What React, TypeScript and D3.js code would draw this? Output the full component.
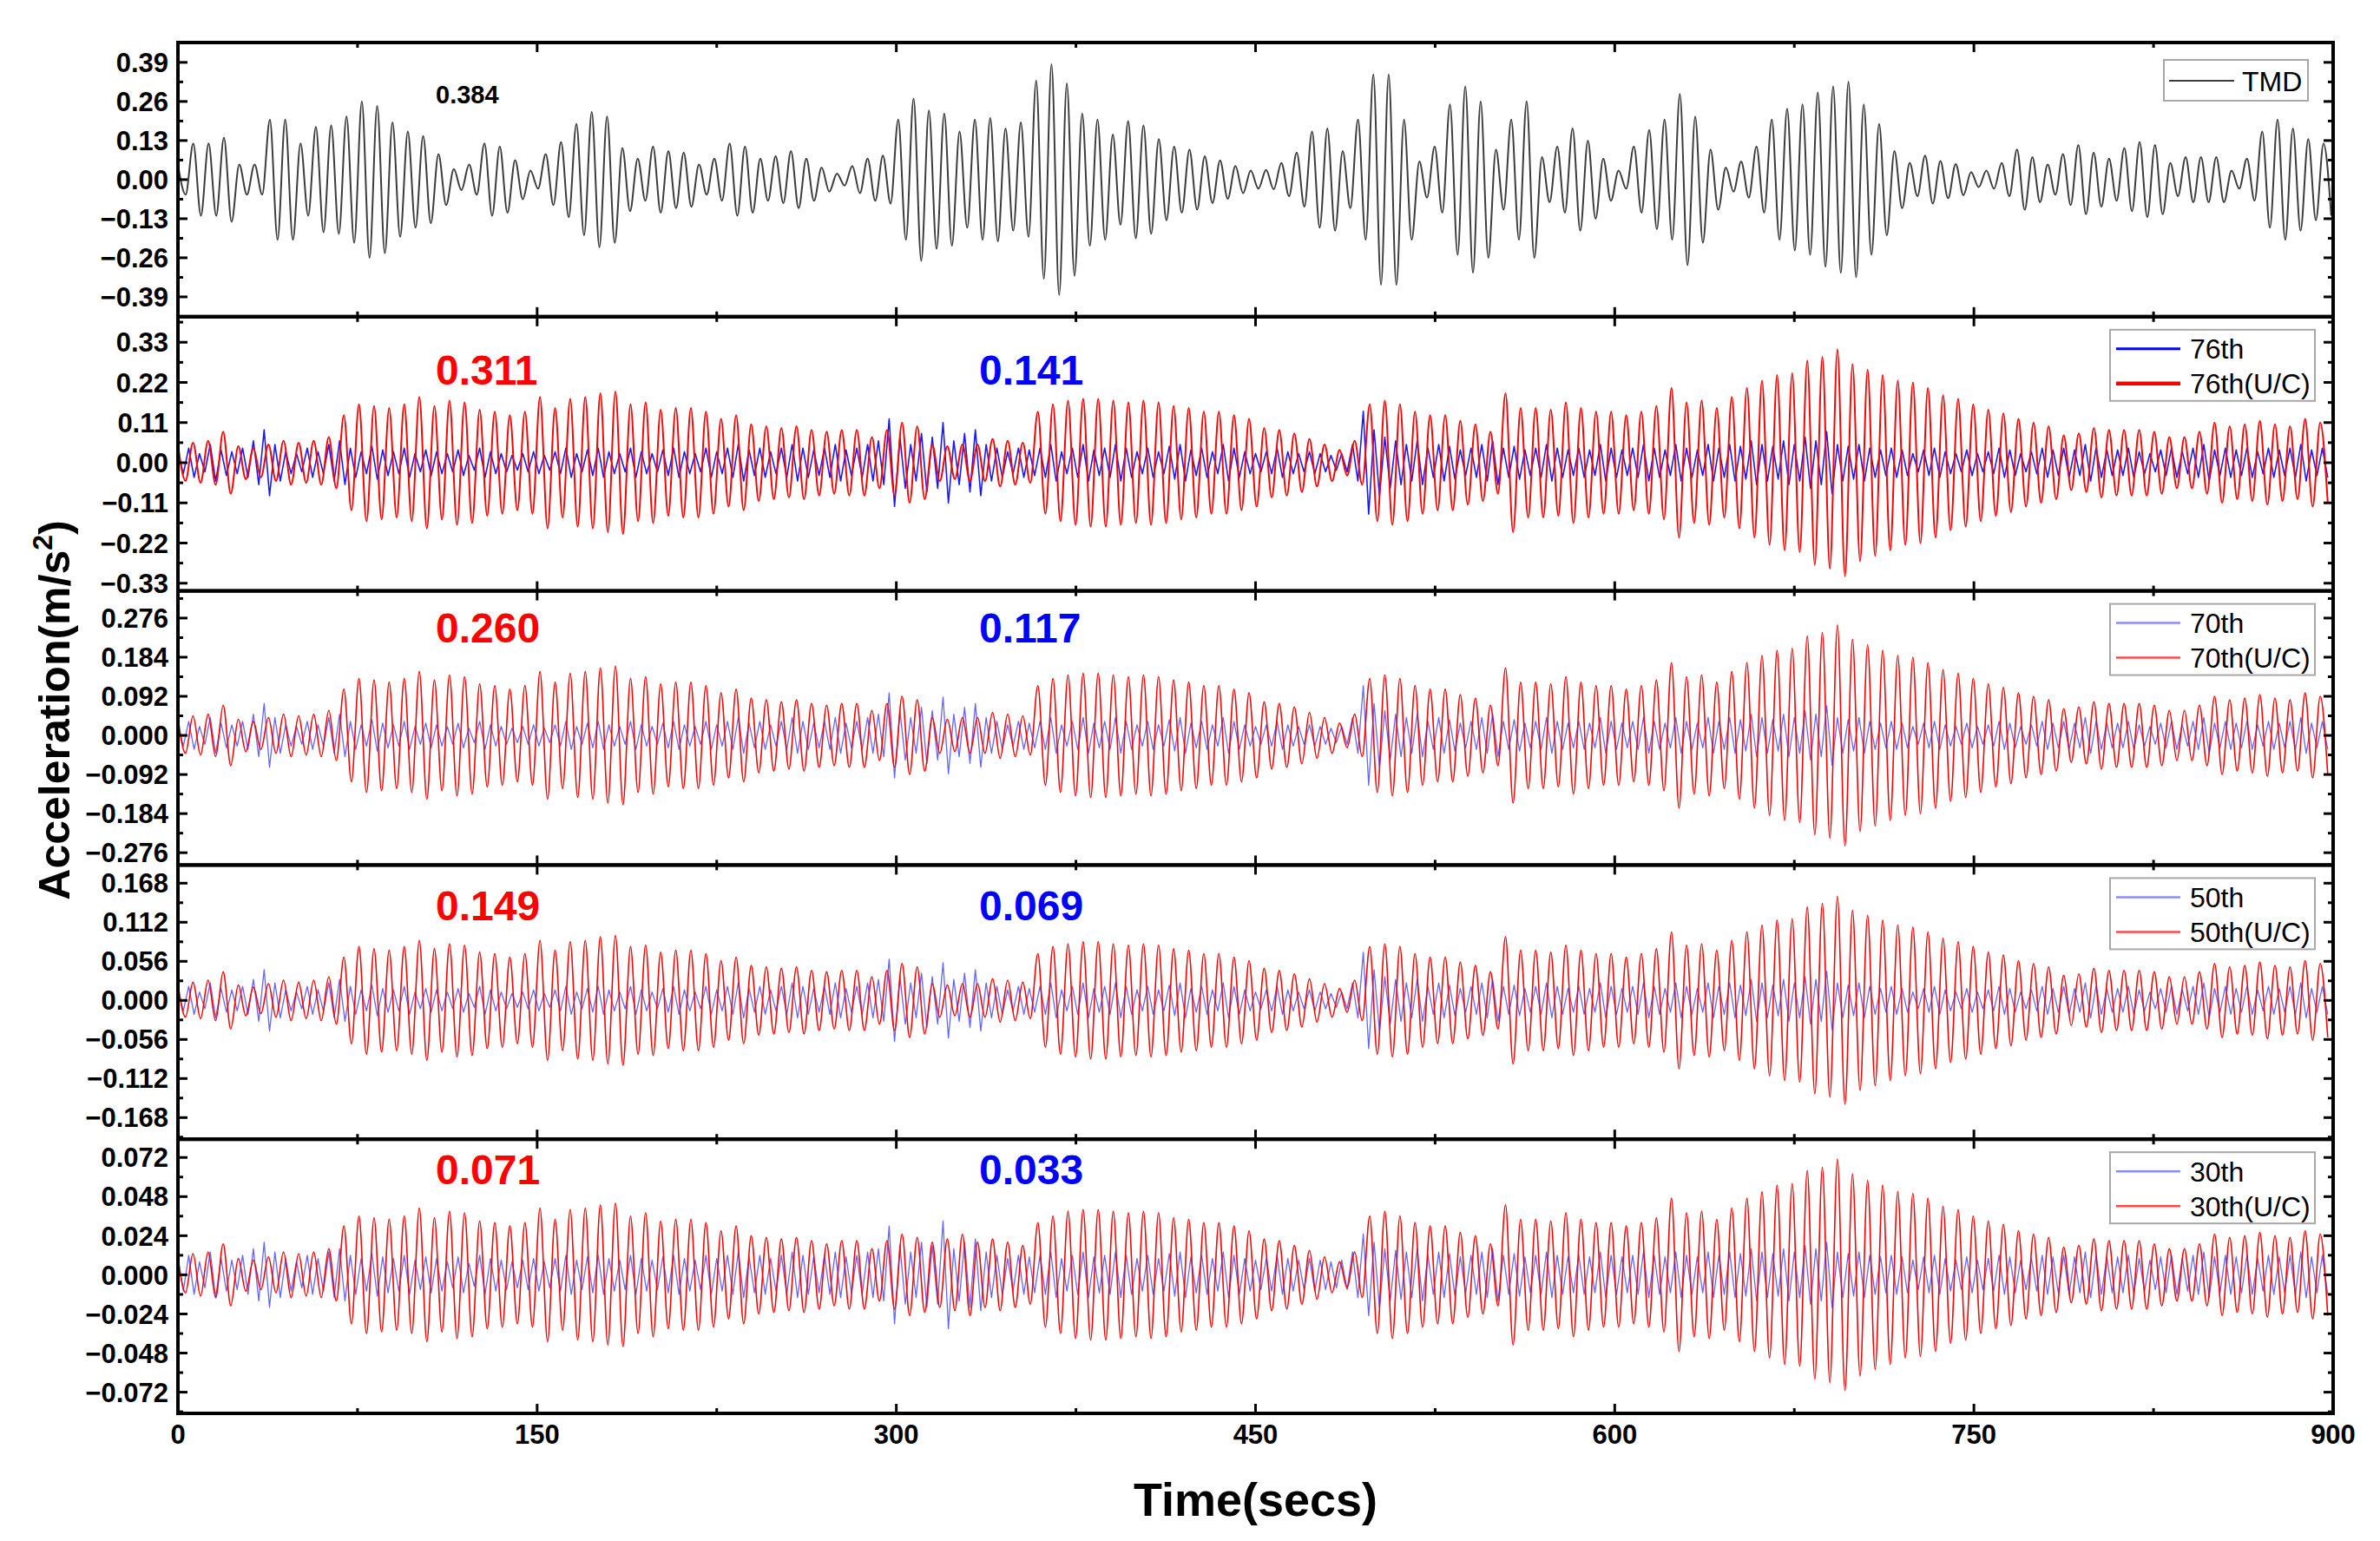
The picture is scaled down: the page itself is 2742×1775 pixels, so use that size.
import React, { useEffect, useRef } from "react";
import * as d3 from "d3";

// peak amplitude of each oscillation cycle (m/s^2)
const tmdPeaks = [
	.05, .12, .12, .14, .05, .05, .2, .2, .12, .175,
	.18, .21, .26, .245, .19, .16, .145, .085, .035, .05,
	.12, .11, .065, .03, .085, .125, .185, .225, .21, .105,
	.07, .11, .095, .09, .05, .07, .12, .11, .07, .078,
	.095, .07, .04, .02, .045, .07, .08, .2, .27, .23,
	.22, .16, .2, .205, .17, .19, .33, .384, .32, .22,
	.2, .15, .195, .18, .135, .11, .1, .078, .064, .045,
	.03, .032, .055, .09, .16, .17, .095, .2, .35, .35,
	.2, .06, .11, .25, .31, .26, .1, .2, .26, .075,
	.11, .17, .13, .07, .03, .11, .165, .2, .285, .21,
	.1, .04, .06, .11, .2, .236, .25, .29, .31, .325,
	.25, .185, .095, .055, .08, .062, .052, .025, .03, .055,
	.1, .075, .05, .085, .115, .09, .07, .105, .125, .115,
	.055, .075, .075, .075, .03, .07, .16, .2, .17, .135,
	.12,
];

const uc76 = [
	.05, .055, .06, .085, .045, .04, .05, .06, .055, .06,
	.07, .13, .16, .155, .15, .16, .18, .155, .17, .165,
	.145, .14, .13, .14, .18, .15, .175, .18, .19, .195,
	.16, .165, .145, .15, .15, .14, .12, .13, .105, .1,
	.095, .1, .09, .085, .09, .09, .07, .09, .11, .1,
	.05, .045, .05, .05, .065, .06, .055, .14, .16, .17,
	.175, .175, .17, .165, .17, .165, .155, .15, .14, .14,
	.13, .12, .095, .09, .08, .065, .05, .035, .06, .16,
	.17, .16, .14, .13, .13, .115, .105, .085, .19, .15,
	.15, .145, .165, .15, .14, .14, .13, .14, .155, .205,
	.165, .17, .15, .18, .205, .225, .24, .245, .28, .29,
	.311, .27, .255, .24, .225, .22, .205, .185, .175, .16,
	.145, .135, .12, .11, .1, .075, .08, .095, .09, .09,
	.09, .085, .07, .07, .085, .11, .1, .105, .115, .105,
	.1, .12, .11,
];

const uc70 = [
	.042, .046, .05, .071, .038, .033, .042, .05, .046, .05,
	.059, .109, .134, .13, .125, .134, .15, .13, .142, .138,
	.121, .117, .109, .117, .15, .125, .146, .15, .159, .163,
	.134, .138, .121, .125, .125, .117, .1, .109, .088, .084,
	.079, .084, .075, .071, .075, .075, .059, .075, .092, .084,
	.042, .038, .042, .042, .054, .05, .046, .117, .134, .142,
	.146, .146, .142, .138, .142, .138, .13, .125, .117, .117,
	.109, .1, .079, .075, .067, .054, .042, .029, .05, .134,
	.142, .134, .117, .109, .109, .096, .088, .071, .159, .125,
	.125, .121, .138, .125, .117, .117, .109, .117, .13, .171,
	.138, .142, .125, .15, .171, .188, .2, .205, .234, .242,
	.26, .226, .213, .2, .188, .184, .171, .155, .146, .134,
	.121, .113, .1, .092, .084, .063, .067, .079, .075, .075,
	.075, .071, .059, .059, .071, .092, .084, .088, .096, .088,
	.084, .1, .092,
];

const uc50 = [
	.024, .026, .029, .041, .022, .019, .024, .029, .026, .029,
	.034, .062, .077, .074, .072, .077, .086, .074, .081, .079,
	.069, .067, .062, .067, .086, .072, .084, .086, .091, .093,
	.077, .079, .069, .072, .072, .067, .057, .062, .05, .048,
	.046, .048, .043, .041, .043, .043, .034, .043, .053, .048,
	.024, .022, .024, .024, .031, .029, .026, .067, .077, .081,
	.084, .084, .081, .079, .081, .079, .074, .072, .067, .067,
	.062, .057, .046, .043, .038, .031, .024, .017, .029, .077,
	.081, .077, .067, .062, .062, .055, .05, .041, .091, .072,
	.072, .069, .079, .072, .067, .067, .062, .067, .074, .098,
	.079, .081, .072, .086, .098, .108, .115, .117, .134, .139,
	.149, .129, .122, .115, .108, .105, .098, .089, .084, .077,
	.069, .065, .057, .053, .048, .036, .038, .046, .043, .043,
	.043, .041, .034, .034, .041, .053, .048, .05, .055, .05,
	.048, .057, .053,
];

const uc30 = [
	.011, .013, .014, .019, .01, .009, .011, .014, .013, .014,
	.016, .03, .036, .035, .034, .036, .041, .035, .039, .038,
	.033, .032, .03, .032, .041, .034, .04, .041, .043, .044,
	.036, .038, .033, .034, .034, .032, .027, .03, .024, .023,
	.022, .023, .021, .019, .021, .021, .016, .021, .025, .023,
	.02, .022, .025, .02, .022, .02, .018, .032, .036, .039,
	.04, .04, .039, .038, .039, .038, .035, .034, .032, .032,
	.03, .027, .022, .021, .018, .015, .011, .008, .014, .036,
	.039, .036, .032, .03, .03, .026, .024, .019, .043, .034,
	.034, .033, .038, .034, .032, .032, .03, .032, .035, .047,
	.038, .039, .034, .041, .047, .051, .055, .056, .064, .066,
	.071, .062, .058, .055, .051, .05, .047, .042, .04, .036,
	.033, .031, .027, .025, .023, .017, .018, .022, .021, .021,
	.021, .019, .016, .016, .019, .025, .023, .024, .026, .024,
	.023, .027, .025,
];

const ctrl76 = [
	.03, .04, .025, .05, .035, .03, .04, .06, .09, .05,
	.03, .025, .04, .03, .05, .06, .04, .03, .045, .035,
	.03, .04, .025, .035, .03, .025, .035, .02, .04, .03,
	.025, .02, .025, .03, .02, .03, .04, .025, .035, .04,
	.03, .025, .04, .03, .025, .035, .04, .03, .025, .04,
	.03, .04, .05, .035, .04, .03, .04, .05, .04, .035,
	.04, .05, .035, .04, .05, .06, .12, .07, .05, .08,
	.07, .11, .06, .08, .09, .05, .04, .03, .04, .035,
	.04, .05, .03, .04, .05, .035, .04, .05, .04, .03,
	.04, .03, .045, .05, .035, .04, .03, .05, .04, .03,
	.025, .03, .04, .03, .025, .03, .025, .02, .025, .05,
	.141, .09, .07, .06, .05, .06, .04, .05, .045, .035,
	.04, .05, .06, .04, .045, .035, .04, .05, .04, .035,
	.04, .035, .05, .04, .035, .04, .05, .04, .035, .05,
	.04, .035, .05, .04, .05, .045, .06, .05, .045, .06,
	.05, .07, .06, .085, .05, .045, .05, .04, .035, .04,
	.035, .025, .035, .04, .03, .025, .035, .025, .03, .04,
	.035, .025, .03, .04, .035, .04, .035, .05, .04, .035,
	.035, .04, .03, .025, .035, .04, .03, .04, .05, .035,
	.04, .035, .04, .03, .04, .035, .04, .05, .035, .04,
];

const ctrl70 = [
	.025, .033, .021, .042, .029, .025, .033, .05, .075, .042,
	.025, .021, .033, .025, .042, .05, .033, .025, .037, .029,
	.025, .033, .021, .029, .025, .021, .029, .017, .033, .025,
	.021, .017, .021, .025, .017, .025, .033, .021, .029, .033,
	.025, .021, .033, .025, .021, .029, .033, .025, .021, .033,
	.025, .033, .042, .029, .033, .025, .033, .042, .033, .029,
	.033, .042, .029, .033, .042, .05, .1, .058, .042, .066,
	.058, .09, .05, .066, .075, .042, .033, .025, .033, .029,
	.033, .042, .025, .033, .042, .029, .033, .042, .033, .025,
	.033, .025, .037, .042, .029, .033, .025, .042, .033, .025,
	.021, .025, .033, .025, .021, .025, .021, .017, .021, .042,
	.117, .075, .058, .05, .042, .05, .033, .042, .037, .029,
	.033, .042, .05, .033, .037, .029, .033, .042, .033, .029,
	.033, .029, .042, .033, .029, .033, .042, .033, .029, .042,
	.033, .029, .042, .033, .042, .037, .05, .042, .037, .05,
	.042, .058, .05, .07, .042, .037, .042, .033, .029, .033,
	.029, .021, .029, .033, .025, .021, .029, .021, .025, .033,
	.029, .021, .025, .033, .029, .033, .029, .042, .033, .029,
	.029, .033, .025, .021, .029, .033, .025, .033, .042, .029,
	.033, .029, .033, .025, .033, .029, .033, .042, .029, .033,
];

const ctrl50 = [
	.015, .02, .012, .025, .017, .015, .02, .03, .044, .025,
	.015, .012, .02, .015, .025, .03, .02, .015, .022, .017,
	.015, .02, .012, .017, .015, .012, .017, .01, .02, .015,
	.012, .01, .012, .015, .01, .015, .02, .012, .017, .02,
	.015, .012, .02, .015, .012, .017, .02, .015, .012, .02,
	.015, .02, .025, .017, .02, .015, .02, .025, .02, .017,
	.02, .025, .017, .02, .025, .03, .059, .034, .025, .039,
	.034, .054, .03, .039, .044, .025, .02, .015, .02, .017,
	.02, .025, .015, .02, .025, .017, .02, .025, .02, .015,
	.02, .015, .022, .025, .017, .02, .015, .025, .02, .015,
	.012, .015, .02, .015, .012, .015, .012, .01, .012, .025,
	.069, .044, .034, .03, .025, .03, .02, .025, .022, .017,
	.02, .025, .03, .02, .022, .017, .02, .025, .02, .017,
	.02, .017, .025, .02, .017, .02, .025, .02, .017, .025,
	.02, .017, .025, .02, .025, .022, .03, .025, .022, .03,
	.025, .034, .03, .042, .025, .022, .025, .02, .017, .02,
	.017, .012, .017, .02, .015, .012, .017, .012, .015, .02,
	.017, .012, .015, .02, .017, .02, .017, .025, .02, .017,
	.017, .02, .015, .012, .017, .02, .015, .02, .025, .017,
	.02, .017, .02, .015, .02, .017, .02, .025, .017, .02,
];

const ctrl30 = [
	.01, .012, .008, .014, .01, .009, .012, .016, .02, .014,
	.01, .008, .012, .01, .014, .016, .012, .01, .013, .011,
	.01, .012, .009, .011, .01, .008, .011, .007, .012, .01,
	.009, .008, .009, .01, .008, .01, .012, .009, .011, .012,
	.01, .009, .012, .01, .009, .011, .012, .01, .009, .012,
	.01, .012, .014, .011, .012, .01, .012, .014, .012, .011,
	.012, .014, .011, .012, .014, .016, .03, .018, .014, .02,
	.018, .033, .016, .02, .022, .014, .012, .01, .012, .011,
	.012, .014, .01, .012, .014, .011, .012, .014, .012, .01,
	.012, .01, .013, .014, .011, .012, .01, .014, .012, .01,
	.009, .01, .012, .01, .009, .01, .009, .008, .009, .014,
	.025, .02, .016, .015, .014, .016, .012, .014, .013, .011,
	.012, .014, .016, .012, .013, .011, .012, .014, .012, .011,
	.012, .011, .014, .012, .011, .012, .014, .012, .011, .014,
	.012, .011, .014, .012, .014, .013, .016, .014, .013, .016,
	.014, .018, .016, .02, .014, .013, .014, .012, .011, .012,
	.011, .009, .011, .012, .01, .009, .011, .009, .01, .012,
	.011, .009, .01, .012, .011, .012, .011, .014, .012, .011,
	.011, .012, .01, .009, .011, .012, .01, .012, .014, .011,
	.012, .011, .012, .01, .012, .011, .012, .014, .011, .012,
];

// oscillation periods (s)
const tmdPeriod = 6.4;
const ucPeriod = 6.3;
const ctrlPeriod = 4.5;

const timeTicks = [0, 150, 300, 450, 600, 750, 900];
const floors = ["76th", "70th", "50th", "30th"];
const ucMax = ["0.311", "0.260", "0.149", "0.071"];
const ctrlMax = ["0.141", "0.117", "0.069", "0.033"];

const yDomains = [
	[-0.456, 0.456],
	[-0.351, 0.4],
	[-0.305, 0.34],
	[-0.199, 0.194],
	[-0.085, 0.0832],
];
const yTicks = [
	[-0.39, -0.26, -0.13, 0, 0.13, 0.26, 0.39],
	[-0.33, -0.22, -0.11, 0, 0.11, 0.22, 0.33],
	[-0.276, -0.184, -0.092, 0, 0.092, 0.184, 0.276],
	[-0.168, -0.112, -0.056, 0, 0.056, 0.112, 0.168],
	[-0.072, -0.048, -0.024, 0, 0.024, 0.048, 0.072],
];
const yFormats = [".2f", ".2f", ".3f", ".3f", ".3f"];

// top of cycle k at k*period, trough half a period later
function wavePoints(peaks, period) {
	const pts = [];
	peaks.forEach((a, k) => {
		pts.push([k * period, a]);
		pts.push([k * period + period / 2, -a]);
	});
	return pts;
}

export default function App() {
	const svgRef = useRef(null);

	useEffect(() => {
		const width = 2742,
			height = 1775;
		const left = 205,
			right = 2688,
			top0 = 49,
			bottom0 = 1628;
		const ph = (bottom0 - top0) / 5;
		const font = "'Liberation Sans', Arial, Helvetica, sans-serif";
		const annotBase = [443, 740, 1060, 1364];

		const svg = d3
			.select(svgRef.current)
			.attr("width", width)
			.attr("height", height);
		svg.selectAll("*").remove();

		svg.append("rect")
			.attr("width", width)
			.attr("height", height)
			.attr("fill", "#fff");

		const x = d3.scaleLinear().domain([0, 900]).range([left, right]);

		const ucSets = [uc76, uc70, uc50, uc30];
		const ctrlSets = [ctrl76, ctrl70, ctrl50, ctrl30];

		const panelSeries = [
			[{ name: "TMD", values: tmdPeaks, period: tmdPeriod, color: "#3c3c3c", width: 2, curve: d3.curveMonotoneX, legendWidth: 2 }],
			...floors.map((f, i) => [
				{
					name: f,
					values: ctrlSets[i],
					period: ctrlPeriod,
					color: i === 0 ? "#0000ff" : "#4a4aff",
					width: i === 0 ? 1.6 : 1.3,
					opacity: i === 0 ? 0.9 : 0.85,
					curve: d3.curveLinear,
					legendColor: i === 0 ? "#0000ff" : "#8c8cff",
					legendWidth: i === 0 ? 3 : 2.5,
				},
				{
					name: f + "(U/C)",
					values: ucSets[i],
					period: ucPeriod,
					color: "#ff0000",
					width: i === 0 ? 2 : 1.6,
					curve: d3.curveMonotoneX,
					legendColor: i === 0 ? "#ff0000" : "#ff4a4a",
					legendWidth: i === 0 ? 4.5 : 2.5,
				},
			]),
		];

		const timeMinor = d3.range(75, 900, 150);

		yDomains.forEach((domain, i) => {
			const top = top0 + i * ph;
			const bottom = top + ph;
			const y = d3.scaleLinear().domain(domain).range([bottom, top]);
			const clipId = "panel-clip-" + i;

			svg.append("clipPath")
				.attr("id", clipId)
				.append("rect")
				.attr("x", left)
				.attr("y", top)
				.attr("width", right - left)
				.attr("height", ph);

			// data lines
			const g = svg.append("g").attr("clip-path", `url(#${clipId})`);
			panelSeries[i].forEach((s) => {
				const line = d3
					.line()
					.x((d) => x(d[0]))
					.y((d) => y(d[1]))
					.curve(s.curve);
				g.append("path")
					.datum(wavePoints(s.values, s.period))
					.attr("fill", "none")
					.attr("stroke", s.color)
					.attr("stroke-width", s.width)
					.attr("stroke-opacity", s.opacity || 1)
					.attr("stroke-linejoin", "round")
					.attr("d", line);
			});

			// y ticks, left and right, inward
			const ticks = yTicks[i];
			const step = ticks[1] - ticks[0];
			const minor = d3
				.range(ticks[0] - step / 2, ticks[ticks.length - 1] + step, step)
				.filter((v) => v > domain[0] && v < domain[1]);
			const fmt = d3.format(yFormats[i]);
			ticks.forEach((v) => {
				svg.append("line")
					.attr("x1", left).attr("x2", left + 11)
					.attr("y1", y(v)).attr("y2", y(v))
					.attr("stroke", "#000").attr("stroke-width", 3);
				svg.append("line")
					.attr("x1", right).attr("x2", right - 11)
					.attr("y1", y(v)).attr("y2", y(v))
					.attr("stroke", "#000").attr("stroke-width", 3);
				svg.append("text")
					.attr("x", left - 11)
					.attr("y", y(v))
					.attr("dy", "0.36em")
					.attr("text-anchor", "end")
					.attr("font-family", font)
					.attr("font-weight", "bold")
					.attr("font-size", 31)
					.text(fmt(v));
			});
			minor.forEach((v) => {
				[[left, left + 6], [right, right - 6]].forEach(([a, b]) =>
					svg.append("line")
						.attr("x1", a).attr("x2", b)
						.attr("y1", y(v)).attr("y2", y(v))
						.attr("stroke", "#000").attr("stroke-width", 3)
				);
			});

			// x ticks on top and bottom edges, inward
			timeTicks.slice(1, -1).forEach((t) => {
				svg.append("line").attr("x1", x(t)).attr("x2", x(t)).attr("y1", top).attr("y2", top + 11).attr("stroke", "#000").attr("stroke-width", 3);
				svg.append("line").attr("x1", x(t)).attr("x2", x(t)).attr("y1", bottom).attr("y2", bottom - 11).attr("stroke", "#000").attr("stroke-width", 3);
			});
			timeMinor.forEach((t) => {
				svg.append("line").attr("x1", x(t)).attr("x2", x(t)).attr("y1", top).attr("y2", top + 6).attr("stroke", "#000").attr("stroke-width", 3);
				svg.append("line").attr("x1", x(t)).attr("x2", x(t)).attr("y1", bottom).attr("y2", bottom - 6).attr("stroke", "#000").attr("stroke-width", 3);
			});

			// frame
			svg.append("rect")
				.attr("x", left)
				.attr("y", top)
				.attr("width", right - left)
				.attr("height", ph)
				.attr("fill", "none")
				.attr("stroke", "#000")
				.attr("stroke-width", 4);

			// legend
			const series = panelSeries[i];
			const lg = svg.append("g");
			if (i === 0) {
				lg.append("rect")
					.attr("x", 2493).attr("y", top + 20)
					.attr("width", 166).attr("height", 47)
					.attr("fill", "#fff").attr("stroke", "#a8a8a8").attr("stroke-width", 2);
				lg.append("line")
					.attr("x1", 2499).attr("x2", 2574)
					.attr("y1", top + 44).attr("y2", top + 44)
					.attr("stroke", series[0].color).attr("stroke-width", 2);
				lg.append("text")
					.attr("x", 2583).attr("y", top + 44).attr("dy", "0.36em")
					.attr("font-family", font).attr("font-size", 32)
					.text(series[0].name);
			} else {
				lg.append("rect")
					.attr("x", 2431).attr("y", top + 15)
					.attr("width", 236).attr("height", 82)
					.attr("fill", "#fff").attr("stroke", "#a8a8a8").attr("stroke-width", 2);
				series.forEach((s, j) => {
					const ly = top + 37 + j * 40;
					lg.append("line")
						.attr("x1", 2438).attr("x2", 2512)
						.attr("y1", ly).attr("y2", ly)
						.attr("stroke", s.legendColor).attr("stroke-width", s.legendWidth);
					lg.append("text")
						.attr("x", 2523).attr("y", ly).attr("dy", "0.36em")
						.attr("font-family", font).attr("font-size", 32)
						.text(s.name);
				});
			}

			// peak annotations
			if (i === 0) {
				svg.append("text")
					.attr("x", 502).attr("y", 119)
					.attr("font-family", font).attr("font-weight", "bold").attr("font-size", 29)
					.text("0.384");
			} else {
				svg.append("text")
					.attr("x", 502).attr("y", annotBase[i - 1])
					.attr("font-family", font).attr("font-weight", "bold").attr("font-size", 48)
					.attr("fill", "#ff0000")
					.text(ucMax[i - 1]);
				svg.append("text")
					.attr("x", 1128).attr("y", annotBase[i - 1])
					.attr("font-family", font).attr("font-weight", "bold").attr("font-size", 48)
					.attr("fill", "#0000ff")
					.text(ctrlMax[i - 1]);
			}
		});

		// bottom time axis labels
		timeTicks.forEach((t) => {
			svg.append("text")
				.attr("x", x(t))
				.attr("y", 1663)
				.attr("text-anchor", "middle")
				.attr("font-family", font)
				.attr("font-weight", "bold")
				.attr("font-size", 31)
				.text(t);
		});

		svg.append("text")
			.attr("x", (left + right) / 2)
			.attr("y", 1746)
			.attr("text-anchor", "middle")
			.attr("font-family", font)
			.attr("font-weight", "bold")
			.attr("font-size", 54)
			.text("Time(secs)");

		const yTitle = svg.append("text")
			.attr("transform", "translate(80,818) rotate(-90)")
			.attr("text-anchor", "middle")
			.attr("font-family", font)
			.attr("font-weight", "bold")
			.attr("font-size", 50);
		yTitle.append("tspan").text("Acceleration(m/s");
		yTitle.append("tspan").attr("font-size", 32).attr("dy", -20).text("2");
		yTitle.append("tspan").attr("dy", 20).text(")");

		return () => {
			d3.select(svgRef.current).selectAll("*").remove();
		};
	}, []);

	return (
		<svg
			ref={svgRef}
			style={{ position: "absolute", left: 0, top: 0, display: "block" }}
		></svg>
	);
}
